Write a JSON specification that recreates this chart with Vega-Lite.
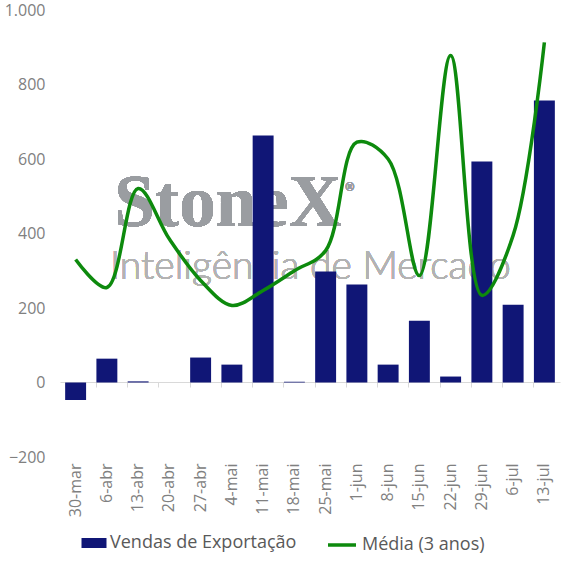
{
  "$schema": "https://vega.github.io/schema/vega-lite/v6.json",
  "autosize": "none",
  "width": 500,
  "height": 447,
  "padding": {"left": 60, "top": 10, "right": 8, "bottom": 110},
  "background": "white",
  "config": {
    "font": "Open Sans",
    "view": {"stroke": null},
    "axis": {"labelFont": "Open Sans", "labelFontSize": 16, "labelColor": "#808080"}
  },
  "data": {
    "values": [
      {"semana": "30-mar", "vendas": -47, "media": 330},
      {"semana": "6-abr", "vendas": 64, "media": 255},
      {"semana": "13-abr", "vendas": 3, "media": 521},
      {"semana": "20-abr", "vendas": 0, "media": 385},
      {"semana": "27-abr", "vendas": 67, "media": 274},
      {"semana": "4-mai", "vendas": 48, "media": 207},
      {"semana": "11-mai", "vendas": 663, "media": 247},
      {"semana": "18-mai", "vendas": 2, "media": 300},
      {"semana": "25-mai", "vendas": 298, "media": 354},
      {"semana": "1-jun", "vendas": 263, "media": 645},
      {"semana": "8-jun", "vendas": 48, "media": 600},
      {"semana": "15-jun", "vendas": 166, "media": 287},
      {"semana": "22-jun", "vendas": 16, "media": 878},
      {"semana": "29-jun", "vendas": 593, "media": 234},
      {"semana": "6-jul", "vendas": 209, "media": 395},
      {"semana": "13-jul", "vendas": 757, "media": 913}
    ]
  },
  "resolve": {"axis": {"x": "independent"}},
  "layer": [
    {
      "mark": {"type": "text", "font": "Liberation Serif", "fontWeight": "bold", "fontSize": 73, "fill": "#9a9da1", "align": "center", "baseline": "alphabetic", "dx": -4},
      "encoding": {
        "x": {"datum": "4-mai", "type": "ordinal", "axis": null},
        "y": {"datum": 421, "type": "quantitative"},
        "text": {"value": "StoneX"}
      }
    },
    {
      "mark": {"type": "text", "font": "Open Sans", "fontSize": 11, "fill": "#9a9da1", "align": "center", "baseline": "middle", "dx": -7},
      "encoding": {
        "x": {"datum": "1-jun", "type": "ordinal", "axis": null},
        "y": {"datum": 521, "type": "quantitative"},
        "text": {"value": "®"}
      }
    },
    {
      "mark": {"type": "text", "font": "Lato", "fontWeight": 300, "fontSize": 39, "fill": "#b3b3b3", "align": "center", "baseline": "alphabetic", "dx": 16},
      "encoding": {
        "x": {"datum": "18-mai", "type": "ordinal", "axis": null},
        "y": {"datum": 279, "type": "quantitative"},
        "text": {"value": "Inteligência de Mercado"}
      }
    },
    {
      "mark": {"type": "bar"},
      "encoding": {
        "x": {
          "field": "semana", "type": "ordinal",
          "scale": {"domain": ["30-mar","6-abr","13-abr","20-abr","27-abr","4-mai","11-mai","18-mai","25-mai","1-jun","8-jun","15-jun","22-jun","29-jun","6-jul","13-jul"], "paddingInner": 0.33, "paddingOuter": 0.165},
          "axis": {"title": null, "labelAngle": -90, "domain": false, "ticks": false, "grid": false, "labelPadding": 6, "labelBaseline": "middle"}
        },
        "y": {
          "field": "vendas", "type": "quantitative",
          "scale": {"domain": [-200, 1000], "nice": false},
          "axis": {"title": null, "values": [-200, 0, 200, 400, 600, 800, 1000], "domain": false, "ticks": false, "gridColor": "#d9d9d9", "gridWidth": 1, "labelPadding": 15, "labelExpr": "replace(format(datum.value, ','), ',', '.')"}
        },
        "fill": {
          "datum": "Vendas de Exportação",
          "scale": {"range": ["#101676"]},
          "legend": {"orient": "none", "legendX": 24, "legendY": 523, "direction": "horizontal", "title": null, "symbolType": "M-1.25,-0.5H1.25V0.5H-1.25Z", "symbolSize": 400, "symbolStrokeWidth": 0, "labelOffset": 6, "labelLimit": 400, "labelFontSize": 18, "labelColor": "#595959", "labelFont": "Open Sans"}
        }
      }
    },
    {
      "mark": {"type": "line", "interpolate": "catmull-rom", "strokeWidth": 3.5},
      "encoding": {
        "x": {
          "field": "semana", "type": "ordinal",
          "axis": {"title": null, "orient": "bottom", "offset": -75, "labels": false, "domain": true, "ticks": true, "bandPosition": 0, "tickSize": 5, "grid": false, "domainColor": "#d9d9d9", "tickColor": "#d9d9d9"}
        },
        "y": {"field": "media", "type": "quantitative"},
        "stroke": {
          "datum": "Média (3 anos)",
          "scale": {"range": ["#0d8a0d"]},
          "legend": {"orient": "none", "legendX": 266, "legendY": 519, "direction": "horizontal", "title": null, "symbolType": "stroke", "symbolSize": 784, "symbolStrokeWidth": 3.5, "labelLimit": 400, "labelFontSize": 18, "labelColor": "#595959", "labelFont": "Open Sans"}
        }
      }
    }
  ]
}
